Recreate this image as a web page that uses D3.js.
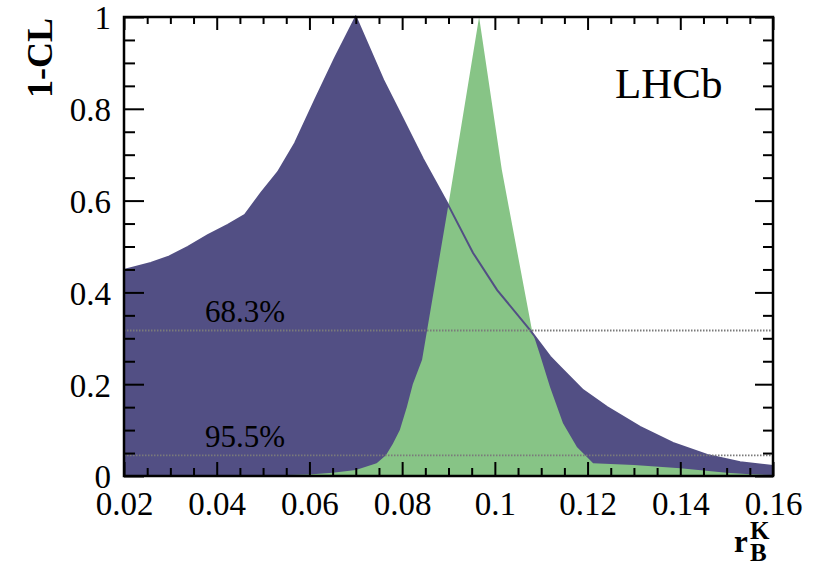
<!DOCTYPE html>
<html>
<head>
<meta charset="utf-8">
<script src="https://cdn.jsdelivr.net/npm/d3@7"></script>
<style>
  html, body { margin: 0; padding: 0; background: #fff; }
  svg { display: block; }
  text { font-family: "Liberation Serif", "Times New Roman", serif; fill: #000; }
</style>
</head>
<body>
<svg id="chart" width="813" height="567"></svg>
<script>
// ---- data ----
const blueX = [0.02, 0.0258, 0.0295, 0.0338, 0.0381, 0.0424, 0.0461, 0.0496, 0.0532, 0.0569, 0.0612, 0.0655, 0.07,
               0.0759, 0.0795, 0.0845, 0.0897, 0.0953, 0.1005, 0.1076, 0.1119, 0.1141, 0.119, 0.1242, 0.1313, 0.1384, 0.1458, 0.1529, 0.16];
const blueY = [0.449, 0.464, 0.477, 0.499, 0.525, 0.547, 0.569, 0.617, 0.662, 0.725, 0.819, 0.91, 1.0,
               0.863, 0.791, 0.69, 0.595, 0.486, 0.405, 0.318, 0.26, 0.237, 0.187, 0.15, 0.107, 0.072, 0.046, 0.03, 0.022];

const greenX = [0.02, 0.04, 0.05, 0.06, 0.065, 0.07, 0.0745, 0.0765, 0.078, 0.0795, 0.081, 0.0823, 0.0843, 0.0899, 0.0966,
                0.1015, 0.108, 0.1097, 0.1119, 0.1147, 0.1177, 0.1212, 0.125, 0.13, 0.14, 0.145, 0.15, 0.155, 0.16];
const greenY = [0, 0.0005, 0.001, 0.003, 0.007, 0.013, 0.028, 0.045, 0.07, 0.1, 0.15, 0.2, 0.253, 0.586, 1.0,
                0.667, 0.318, 0.265, 0.194, 0.115, 0.063, 0.028, 0.026, 0.024, 0.017, 0.012, 0.007, 0.004, 0.002];

const xTicks = [0.02, 0.04, 0.06, 0.08, 0.1, 0.12, 0.14, 0.16];
const xTickLabels = ["0.02", "0.04", "0.06", "0.08", "0.1", "0.12", "0.14", "0.16"];
const yTicks = [0, 0.2, 0.4, 0.6, 0.8, 1];
const yTickLabels = ["0", "0.2", "0.4", "0.6", "0.8", "1"];
const clLevels = [0.317, 0.045];
const clLabels = ["68.3%", "95.5%"];

// ---- layout ----
const svg = d3.select("#chart");
const L = 124, R = 773, T = 17, B = 476;
const x = d3.scaleLinear().domain([0.02, 0.16]).range([L, R]);
const y = d3.scaleLinear().domain([0, 1]).range([B, T]);

const blue = blueX.map((d, i) => [d, blueY[i]]);
const green = greenX.map((d, i) => [d, greenY[i]]);

const area = d3.area().x(d => x(d[0])).y0(y(0)).y1(d => y(d[1]));
const line = d3.line().x(d => x(d[0])).y(d => y(d[1]));

svg.append("path").datum(blue).attr("d", area).attr("fill", "#524f84");
svg.append("path").datum(green).attr("d", area).attr("fill", "#87c486");
svg.append("path").datum(blue).attr("d", line).attr("fill", "none").attr("stroke", "#524f84").attr("stroke-width", 2);

// CL lines
clLevels.forEach((v, i) => {
  svg.append("line").attr("x1", L).attr("x2", R).attr("y1", y(v)).attr("y2", y(v))
    .attr("stroke", "#7a7a7a").attr("stroke-width", 1.8).attr("stroke-dasharray", "1.5,1.5");
  svg.append("text").attr("x", 205).attr("y", y(v) - 8).attr("font-size", 31).text(clLabels[i]);
});

// axes
const minorX = d3.range(0.02, 0.16001, 0.005).filter(v => Math.abs(v / 0.02 - Math.round(v / 0.02)) > 1e-6);
const minorY = d3.range(0, 1.0001, 0.05).filter(v => Math.abs(v / 0.2 - Math.round(v / 0.2)) > 1e-6);

function styleAxis(g) {
  g.select(".domain").remove();
  g.selectAll(".tick line").attr("stroke", "#000").attr("stroke-width", 2);
}

// bottom
const gb = svg.append("g").attr("transform", `translate(0,${B})`)
  .call(d3.axisBottom(x).tickValues(xTicks).tickSize(-14).tickPadding(16)
        .tickFormat((d, i) => xTickLabels[i]));
styleAxis(gb);
gb.selectAll("text").attr("font-size", 33).attr("font-family", "Liberation Serif").attr("fill", "#000");
const gbm = svg.append("g").attr("transform", `translate(0,${B})`)
  .call(d3.axisBottom(x).tickValues(minorX).tickSize(-8).tickFormat(""));
styleAxis(gbm);

// top
const gt = svg.append("g").attr("transform", `translate(0,${T})`)
  .call(d3.axisTop(x).tickValues(xTicks).tickSize(-13).tickFormat(""));
styleAxis(gt);
const gtm = svg.append("g").attr("transform", `translate(0,${T})`)
  .call(d3.axisTop(x).tickValues(minorX).tickSize(-7).tickFormat(""));
styleAxis(gtm);

// left
const gl = svg.append("g").attr("transform", `translate(${L},0)`)
  .call(d3.axisLeft(y).tickValues(yTicks).tickSize(-20).tickPadding(13)
        .tickFormat((d, i) => yTickLabels[i]));
styleAxis(gl);
gl.selectAll("text").attr("font-size", 33).attr("font-family", "Liberation Serif").attr("fill", "#000").attr("dy", "0.36em");
const glm = svg.append("g").attr("transform", `translate(${L},0)`)
  .call(d3.axisLeft(y).tickValues(minorY).tickSize(-11).tickFormat(""));
styleAxis(glm);

// right
const gr = svg.append("g").attr("transform", `translate(${R},0)`)
  .call(d3.axisRight(y).tickValues(yTicks).tickSize(-18).tickFormat(""));
styleAxis(gr);
const grm = svg.append("g").attr("transform", `translate(${R},0)`)
  .call(d3.axisRight(y).tickValues(minorY).tickSize(-10).tickFormat(""));
styleAxis(grm);

// frame
svg.append("rect").attr("x", L).attr("y", T).attr("width", R - L).attr("height", B - T)
  .attr("fill", "none").attr("stroke", "#000").attr("stroke-width", 2.5);

// labels
svg.append("text").attr("transform", "translate(52,18) rotate(-90)")
  .attr("text-anchor", "end").attr("font-size", 36).attr("font-weight", "bold").text("1-CL");

svg.append("text").attr("x", 615).attr("y", 98).attr("font-size", 43).text("LHCb");

const xl = svg.append("g");
xl.append("text").attr("x", 734).attr("y", 552).attr("font-size", 31).attr("font-weight", "bold").text("r");
xl.append("text").attr("x", 750).attr("y", 539).attr("font-size", 25).attr("font-weight", "bold").text("K");
xl.append("text").attr("x", 750).attr("y", 561).attr("font-size", 25).attr("font-weight", "bold").text("B");
</script>
</body>
</html>
